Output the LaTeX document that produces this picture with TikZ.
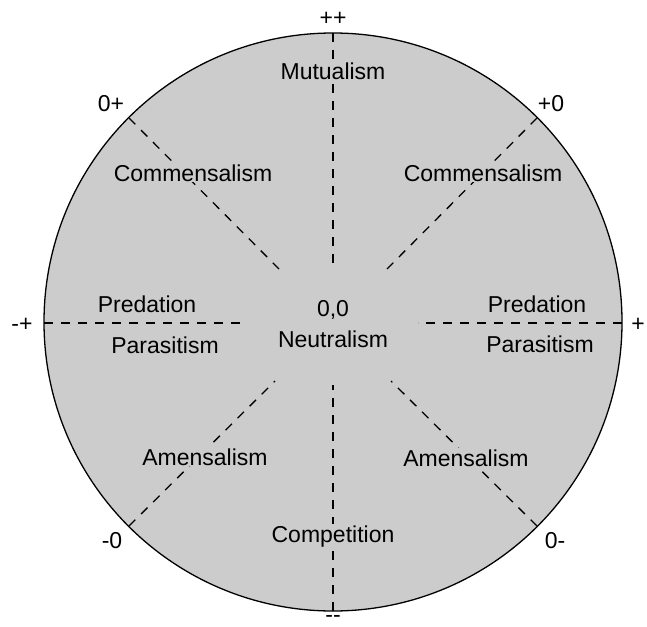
\documentclass[tikz,border=0pt]{standalone}
\usepackage{fontspec}
\setmainfont{Liberation Sans}
\begin{document}
\begin{tikzpicture}[x=1pt,y=-1pt,
  lbl/.style={font=\fontsize{23}{27}\selectfont, anchor=base, inner sep=1pt, fill=regionfill},
  sign/.style={font=\fontsize{23}{27}\selectfont, anchor=base, inner sep=0pt},
  spoke/.style={line width=1.3pt, dash pattern=on 9pt off 8pt},
  rim/.style={line width=1.3pt, fill=regionfill}]
\definecolor{regionfill}{HTML}{CCCCCC}
\useasboundingbox (0,0) rectangle (647,626);

% disc of interaction types
\coordinate (c) at (333,322);
\draw[rim] (c) circle[radius=289];

% outer ends of the spokes, on the rim
\coordinate (oN)  at (333,33);
\coordinate (oS)  at (333,611);
\coordinate (oW)  at (44,323);
\coordinate (oE)  at (622,323);
\coordinate (oNW) at (129,118);
\coordinate (oNE) at (537,118);
\coordinate (oSW) at (129,526);
\coordinate (oSE) at (537,526);
% inner ends of the spokes, around the neutral centre
\coordinate (iN)  at (333,268);
\coordinate (iS)  at (333,385);
\coordinate (iW)  at (240,323);
\coordinate (iE)  at (418,323);
\coordinate (iNW) at (279,269);
\coordinate (iNE) at (387,269);
\coordinate (iSW) at (275,381);
\coordinate (iSE) at (391,381);

\foreach \d in {N,S,W,E,NW,NE,SW,SE}
  \draw[spoke] (o\d) -- (i\d);

% region names
\node[lbl] (mut)  at (333,79)  {Mutualism};
\node[lbl] (comL) at (193,181) {Commensalism};
\node[lbl] (comR) at (483,181) {Commensalism};
\node[lbl] (preL) at (147,312) {Predation};
\node[lbl] (parL) at (165,353) {Parasitism};
\node[lbl] (preR) at (537,312) {Predation};
\node[lbl] (parR) at (540,352) {Parasitism};
\node[lbl] (zero) at (333,316) {0,0};
\node[lbl] (neu)  at (333,347) {Neutralism};
\node[lbl] (amL)  at (205,465) {Amensalism};
\node[lbl] (amR)  at (466,466) {Amensalism};
\node[lbl] (cmp)  at (333,542) {Competition};

% sign pairs outside the rim (the {} keeps two hyphens from joining into a dash)
\node[sign] (pp) at (333,26)  {++};
\node[sign] (zp) at (111,111) {0+};
\node[sign] (pz) at (551,111) {+0};
\node[sign] (mp) at (22,331)  {-+};
\node[sign] (p)  at (638,331) {+};
\node[sign] (mz) at (112,548) {-0};
\node[sign] (zm) at (555,548) {0-};
\node[sign] (mm) at (333,622) {-{}-};
\end{tikzpicture}
\end{document}
